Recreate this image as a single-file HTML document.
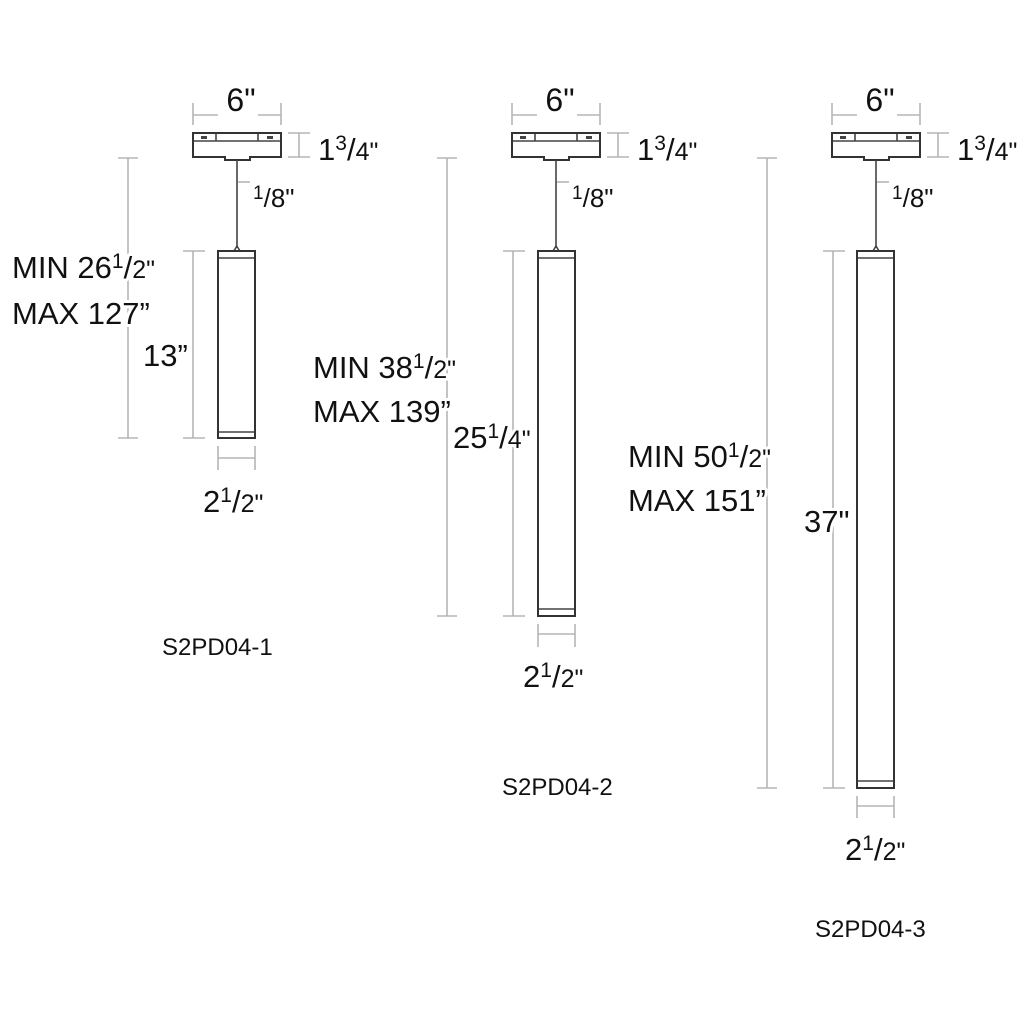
<!DOCTYPE html>
<html><head><meta charset="utf-8"><style>
html,body{margin:0;padding:0;background:#fff;}
svg{display:block}
text{font-family:"Liberation Sans","DejaVu Sans",sans-serif;fill:#111;paint-order:stroke;stroke:#fff;stroke-width:6px;stroke-linejoin:round}
.d{stroke:#b5b5b5;stroke-width:1.6;fill:none}
.o{stroke:#333;stroke-width:2;fill:#fff}
.c{stroke:#444;stroke-width:1.6;fill:none}
</style></head><body>
<svg width="1024" height="1024" viewBox="0 0 1024 1024" xmlns="http://www.w3.org/2000/svg">
<defs>
<g id="top">
  <path class="d" d="M193 103V125M281 103V125M193 115H218M258 115H281"/>
  <path class="o" d="M193 133H281V157H250V160H225V157H193Z"/>
  <path class="c" d="M194 141H280M216 141V134M258 141V134"/>
  <rect x="201" y="136" width="6" height="3" fill="#444"/>
  <rect x="267" y="136" width="6" height="3" fill="#444"/>
  <path class="d" d="M288 133H310M288 157H310M299 133V157"/>
  <path class="c" d="M237 160V248" stroke-width="2"/>
  <path class="c" d="M234 251L237 246L240 251"/>
  <path class="d" d="M238 182H250"/>
  <text x="241" y="111" font-size="32" text-anchor="middle">6"</text>
  <text x="318" y="160" font-size="31">1<tspan font-size="21" dy="-10">3</tspan><tspan font-size="31" dy="10">/</tspan><tspan font-size="25">4"</tspan></text>
  <text x="253" y="207" font-size="26"><tspan font-size="19" dy="-8">1</tspan><tspan dy="8">/</tspan>8"</text>
</g>
</defs>

<use href="#top"/>
<path class="d" d="M118 158H138M128 158V438M118 438H138"/>
<path class="d" d="M183 251H205M193 251V438M183 438H205"/>
<rect class="o" x="218" y="251" width="37" height="187"/>
<path class="c" d="M219 258H254M219 432H254"/>
<path class="d" d="M218 446V470M255 446V470M218 458H255"/>
<text x="12" y="278" font-size="31">MIN 26<tspan font-size="21" dy="-10">1</tspan><tspan dy="10">/</tspan><tspan font-size="25">2"</tspan></text>
<text x="12" y="324" font-size="31">MAX 127”</text>
<text x="143" y="366" font-size="31">13”</text>
<text x="203" y="512" font-size="31">2<tspan font-size="21" dy="-10">1</tspan><tspan dy="10">/</tspan><tspan font-size="25">2"</tspan></text>
<text x="162" y="655" font-size="24">S2PD04-1</text>

<use href="#top" transform="translate(319,0)"/>
<path class="d" d="M437 158H457M447 158V616M437 616H457"/>
<path class="d" d="M503 251H525M513 251V616M503 616H525"/>
<rect class="o" x="538" y="251" width="37" height="365"/>
<path class="c" d="M539 258H574M539 609H574"/>
<path class="d" d="M538 624V647M575 624V647M538 634H575"/>
<text x="313" y="378" font-size="31">MIN 38<tspan font-size="21" dy="-10">1</tspan><tspan dy="10">/</tspan><tspan font-size="25">2"</tspan></text>
<text x="313" y="422" font-size="31">MAX 139”</text>
<text x="453" y="448" font-size="31">25<tspan font-size="21" dy="-10">1</tspan><tspan dy="10">/</tspan><tspan font-size="25">4"</tspan></text>
<text x="523" y="687" font-size="31">2<tspan font-size="21" dy="-10">1</tspan><tspan dy="10">/</tspan><tspan font-size="25">2"</tspan></text>
<text x="502" y="795" font-size="24">S2PD04-2</text>

<use href="#top" transform="translate(639,0)"/>
<path class="d" d="M757 158H777M767 158V788M757 788H777"/>
<path class="d" d="M823 251H845M833 251V788M823 788H845"/>
<rect class="o" x="857" y="251" width="37" height="537"/>
<path class="c" d="M858 258H893M858 781H893"/>
<path class="d" d="M857 796V818M894 796V818M857 806H894"/>
<text x="628" y="467" font-size="31">MIN 50<tspan font-size="21" dy="-10">1</tspan><tspan dy="10">/</tspan><tspan font-size="25">2"</tspan></text>
<text x="628" y="511" font-size="31">MAX 151”</text>
<text x="804" y="532" font-size="31">37"</text>
<text x="845" y="860" font-size="31">2<tspan font-size="21" dy="-10">1</tspan><tspan dy="10">/</tspan><tspan font-size="25">2"</tspan></text>
<text x="815" y="937" font-size="24">S2PD04-3</text>
</svg>
</body></html>
